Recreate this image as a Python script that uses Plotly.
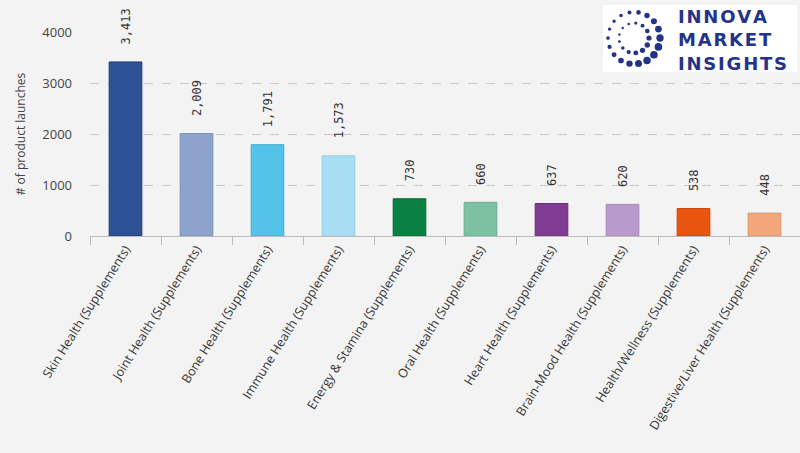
import math
import plotly.graph_objects as go

categories = [
    "Skin Health (Supplements)", "Joint Health (Supplements)", "Bone Health (Supplements)",
    "Immune Health (Supplements)", "Energy & Stamina (Supplements)", "Oral Health (Supplements)",
    "Heart Health (Supplements)", "Brain-Mood Health (Supplements)", "Health/Wellness (Supplements)",
    "Digestive/Liver Health (Supplements)",
]
values = [3413, 2009, 1791, 1573, 730, 660, 637, 620, 538, 448]
value_labels = ["3,413", "2,009", "1,791", "1,573", "730", "660", "637", "620", "538", "448"]
bar_colors = ["#2D5296", "#8DA3CB", "#52C2E8", "#A8DEF3", "#0B8043", "#7CC2A2",
              "#803C92", "#B99BCB", "#E9540F", "#F2A67A"]
line_colors = ["#1D3A70", "#7A90B8", "#45AFD4", "#94CDE3", "#086B37", "#6BAE90",
               "#6A2F7C", "#A587B8", "#C9460B", "#DB9066"]
y_ticks = [0, 1000, 2000, 3000, 4000]
logo_words = ["INNOVA", "MARKET", "INSIGHTS"]

L, T, B = 90, 32, 217
W, H = 800, 453
pw, ph = W - L, H - T - B

fig = go.Figure()
fig.add_trace(go.Bar(
    x=categories, y=values, width=0.46,
    marker=dict(color=bar_colors, line=dict(color=line_colors, width=1)),
    text=["\u00a0\u00a0" + t for t in value_labels], textposition="outside", textangle=-90,
    constraintext="none",
    textfont=dict(family="DejaVu Sans Mono", size=12, color="#333333"),
    cliponaxis=False,
))

def px_to_paper(px, py):
    return (px - L) / pw, (H - B - py) / ph

shapes = []
# logo background
x0, y1 = px_to_paper(603, 5)
x1, y0 = px_to_paper(797, 72)
shapes.append(dict(type="rect", xref="paper", yref="paper", x0=x0, x1=x1, y0=y0, y1=y1,
                   fillcolor="white", line=dict(width=0), layer="above"))
# logo dotted ring
cx, cy = 634, 38
for ring_r, n, base in [(26, 18, 2.4), (15, 13, 1.7)]:
    for i in range(n):
        a = 2 * math.pi * i / n
        px = cx + ring_r * math.cos(a)
        py = cy - ring_r * math.sin(a)
        s = base * (0.7 + 0.9 * (math.cos(a + 0.6) + 1) / 2)
        ax0, ay1 = px_to_paper(px - s, py - s)
        ax1, ay0 = px_to_paper(px + s, py + s)
        shapes.append(dict(type="circle", xref="paper", yref="paper", x0=ax0, x1=ax1,
                           y0=ay0, y1=ay1, fillcolor="#24338A", line=dict(width=0),
                           layer="above"))

ax, ay = px_to_paper(676, 40)
annotations = [dict(text="<br>".join("\u200a".join(w) for w in logo_words),
                    xref="paper", yref="paper", x=ax, y=ay, align="left",
                    xanchor="left", yanchor="middle", showarrow=False,
                    font=dict(family="DejaVu Sans", size=18, color="#24338A", weight="bold"))]

fig.update_layout(
    width=W, height=H,
    margin=dict(l=L, r=0, t=T, b=B, pad=0),
    paper_bgcolor="#F3F3F3", plot_bgcolor="#F3F3F3",
    showlegend=False, bargap=0.54,
    shapes=shapes, annotations=annotations,
    font=dict(family="Open Sans, DejaVu Sans", color="#333333"),
)
fig.update_xaxes(
    type="category", range=[-0.5, 9.5], tickangle=-58,
    tickfont=dict(size=12.5, color="#333333"),
    showline=True, linecolor="#BBBBBB", linewidth=1,
    ticks="outside", tickson="boundaries", ticklen=8, tickcolor="#BBBBBB",
    showgrid=False,
)
fig.update_yaxes(
    range=[0, 4000], tickvals=y_ticks, ticktext=[str(v) for v in y_ticks],
    tickfont=dict(size=13, color="#444444"),
    showgrid=True, gridcolor="#C8C8C8", griddash="dash", gridwidth=1,
    zeroline=False, showline=False, ticklabelstandoff=17,
    title=dict(text="# of product launches", font=dict(size=12, color="#444444"), standoff=14),
)

fig.write_html("out.html", config={"displayModeBar": False},
               post_script="document.body.style.margin='0px';")
